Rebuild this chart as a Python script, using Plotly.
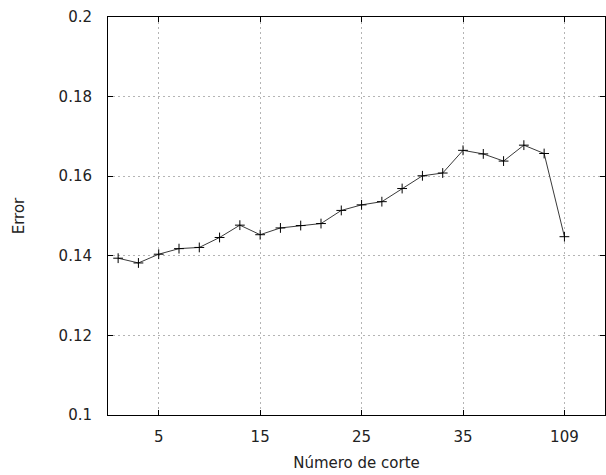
import plotly.graph_objects as go

# Cut positions along the x axis (the last one is the 109 cut)
x_pos = [1, 3, 5, 7, 9, 11, 13, 15, 17, 19, 21, 23, 25, 27, 29, 31, 33, 35, 37, 39, 41, 43, 45]
error = [0.1394, 0.1382, 0.1404, 0.1418, 0.1421,
         0.1446, 0.1477, 0.1453, 0.1470, 0.1476,
         0.1481, 0.1514, 0.1528, 0.1536, 0.1569,
         0.1601, 0.1608, 0.1665, 0.1656, 0.1638,
         0.1678, 0.1657, 0.1448]

x_tickvals = [5, 15, 25, 35, 45]
x_ticktext = ["5", "15", "25", "35", "109"]
y_tickvals = [0.1, 0.12, 0.14, 0.16, 0.18, 0.2]
y_ticktext = ["0.1", "0.12", "0.14", "0.16", "0.18", "0.2"]

FONT = dict(family="DejaVu Sans", size=15, color="#222222")

fig = go.Figure()
fig.add_trace(go.Scatter(
    x=x_pos, y=error, mode="lines+markers",
    line=dict(color="#3a3a3a", width=1),
    marker=dict(symbol="cross-thin", size=7, line=dict(color="black", width=1)),
    showlegend=False,
))

axis_common = dict(
    showline=True, linecolor="black", linewidth=1, mirror="allticks",
    ticks="inside", ticklen=5, tickwidth=1, tickcolor="black",
    showgrid=True, gridcolor="#b4b4b4", gridwidth=1, griddash="2px,3px",
    zeroline=False, tickfont=FONT,
)

fig.update_xaxes(
    range=[0, 49], tickmode="array", tickvals=x_tickvals, ticktext=x_ticktext,
    title=dict(text="Número de corte", font=FONT, standoff=12),
    ticklabelstandoff=8,
    **axis_common,
)
fig.update_yaxes(
    range=[0.1, 0.2], tickmode="array", tickvals=y_tickvals, ticktext=y_ticktext,
    title=dict(text="Error", font=FONT, standoff=30),
    ticklabelstandoff=12,
    **axis_common,
)

fig.update_layout(
    width=606, height=475,
    margin=dict(l=108, r=1, t=17, b=60, autoexpand=False),
    paper_bgcolor="white", plot_bgcolor="white",
    font=FONT,
)

fig.write_html("out.html")
